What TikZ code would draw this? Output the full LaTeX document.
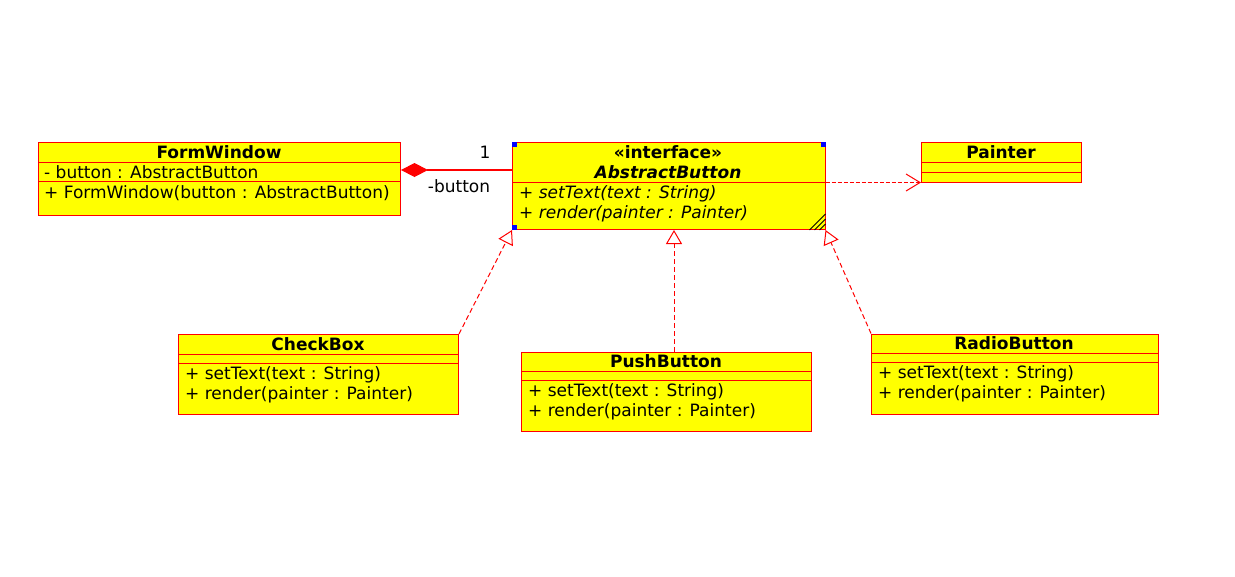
\documentclass[tikz,border=0pt]{standalone}
\usepackage{fontspec}
\setmainfont{DejaVu Sans}
\usetikzlibrary{arrows.meta,positioning}
\definecolor{umlred}{RGB}{255,0,0}
\definecolor{umlyellow}{RGB}{255,255,0}
\definecolor{umlblue}{RGB}{0,0,255}
\tikzstyle{every node}=[font=\fontsize{17}{20}\selectfont]
\tikzstyle{class}=[draw=umlred, fill=umlyellow, anchor=north west, inner sep=0pt, line width=1pt]
\tikzstyle{title}=[font=\fontsize{17}{20}\selectfont\bfseries, anchor=base, inner sep=0pt]
\tikzstyle{member}=[anchor=base west, inner sep=0pt]
\tikzstyle{sep}=[draw=umlred, line width=1pt]
\tikzstyle{realize}=[color=umlred, line width=1pt, dash pattern=on 5pt off 3pt, -{Triangle[open, length=14pt, width=16pt]}]
\tikzstyle{dependency}=[color=umlred, line width=1pt, dash pattern=on 4pt off 2pt, -{Straight Barb[length=14pt, width=17pt]}]
\tikzstyle{composition}=[color=umlred, line width=1.2pt, -{Diamond[length=27pt, width=14pt]}]

\begin{document}
\begin{tikzpicture}[x=1pt, y=-1pt]
    \useasboundingbox (0,0) rectangle (1235,576);
    % First we draw the class boxes
    \foreach \pos/\w/\h/\name in {{(38,142)/362/73/FormWindow}, {(512,142)/312.5/87/AbstractButton}, {(921,142)/160/40/Painter},
        {(178,334)/280/80/CheckBox}, {(521,351.5)/290/79.5/PushButton}, {(871,333.5)/286.5/80.5/RadioButton}}
        \node[class, minimum width=\w pt, minimum height=\h pt] (\name) at \pos {};

    % Compartment lines
    \foreach \name/\off in {FormWindow/20.5, FormWindow/39.5, AbstractButton/40.5, Painter/20.5, Painter/30,
        CheckBox/20, CheckBox/29, PushButton/20, PushButton/29, RadioButton/19.5, RadioButton/28.5}
        \draw[sep] ([yshift=-\off pt]\name.north west) -- ([yshift=-\off pt]\name.north east);

    % Interface marks
    \fill[umlblue] (AbstractButton.north west) rectangle +(5,5);
    \fill[umlblue] ([xshift=-5pt]AbstractButton.north east) rectangle +(5,5);
    \fill[umlblue] (AbstractButton.south west) rectangle +(5,-5);
    \foreach \d in {6,11,16}
        \draw[black, line width=0.8pt] ([xshift=-\d pt]AbstractButton.south east) -- ([yshift=\d pt]AbstractButton.south east);

    % Titles
    \foreach \pos/\text in {{(219,158)/FormWindow}, {(668,158)/«interface»}, {(1001,158)/Painter},
        {(318,350)/CheckBox}, {(666,367)/PushButton}, {(1014,349)/RadioButton}}
        \node[title] at \pos {\text};
    \node[title, font=\fontsize{17}{20}\selectfont\bfseries\itshape] (abname) at (668,178) {AbstractButton};

    % Members
    \node[member] at (44,178) {- button : AbstractButton};
    \node[member] at (44,198) {+ FormWindow(button : AbstractButton)};
    \node[member, font=\fontsize{17}{20}\selectfont\itshape] at (519,198) {+ setText(text : String)};
    \node[member, font=\fontsize{17}{20}\selectfont\itshape] at (519,218) {+ render(painter : Painter)};
    \foreach \x/\y in {185/379, 528/396, 878/378} {
        \node[member] at (\x,\y) {+ setText(text : String)};
        \node[member] at (\x,\y+20) {+ render(painter : Painter)};
    }

    % Connect classes
    \coordinate (fwjoin) at ([yshift=9pt]FormWindow.east);
    \draw[composition] (AbstractButton.west |- fwjoin) -- (fwjoin);
    \node[anchor=base, inner sep=0pt] (mult) at (485,158) {1};
    \node[anchor=base, inner sep=0pt] (role) at (459,192) {-button};
    \coordinate (pnjoin) at ([yshift=0.5pt]Painter.south west);
    \draw[dependency] (AbstractButton.east |- pnjoin) -- (pnjoin);
    \coordinate (pbjoin) at ([xshift=7.5pt]PushButton.north);
    \draw[realize] (CheckBox.north east) -- (AbstractButton.south west);
    \draw[realize] (pbjoin) -- (pbjoin |- AbstractButton.south);
    \draw[realize] (RadioButton.north west) -- (AbstractButton.south east);
\end{tikzpicture}
\end{document}
